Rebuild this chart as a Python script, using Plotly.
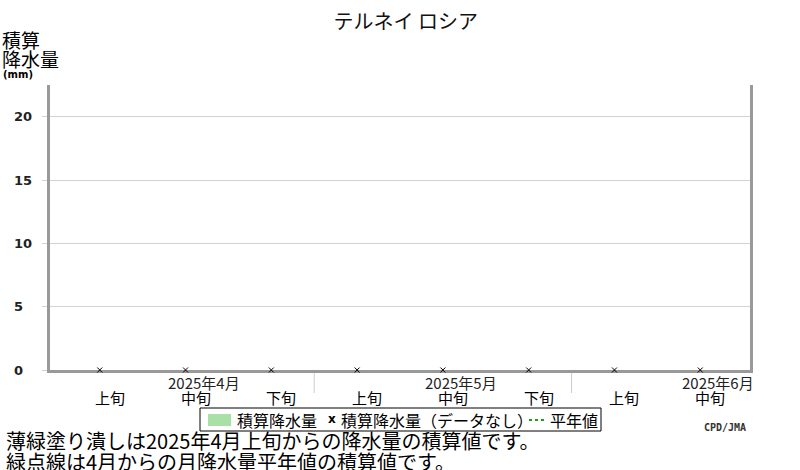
"""Cumulative precipitation chart (Terney, Russia)"""

import plotly.graph_objects as go

# data
dekads = ["上旬", "中旬", "下旬", "上旬", "中旬", "下旬", "上旬", "中旬"]
months = ["2025年4月", "2025年5月", "2025年6月"]
month_pos = [1, 4, 7]          # dekad index under which the month label sits
month_breaks = [2.5, 5.5]      # between last dekad of a month and first of next
precip = [None] * 8            # 積算降水量: no observations
nodata = [0, 0, 0, 0, 0, 0, 0, 0]  # x marks at zero where data is missing
normal = [None] * 8            # 平年値: not drawn
y_ticks = [0, 5, 10, 15, 20]

notes = [
    "薄緑塗り潰しは2025年4月上旬からの降水量の積算値です。",
    "緑点線は4月からの月降水量平年値の積算値です。",
]

FONT = "Noto Sans CJK JP"
AXIS_GRAY = "#999999"
GREEN = "#a8e0a8"
DOT_GREEN = "#229922"

# plot area in pixels (used to place the text around it)
L, R, T, B = 50, 750, 85, 370


def px(xp):
    return (xp - L) / (R - L)


def py(yp):
    return (B - yp) / (B - T)


x = list(range(len(dekads)))

fig = go.Figure()
fig.add_trace(go.Bar(x=x, y=precip, name="積算降水量", marker_color=GREEN))
fig.add_trace(go.Scatter(
    x=x, y=nodata, mode="markers", name="積算降水量（データなし）",
    cliponaxis=False,
    marker=dict(symbol="x-thin", size=5, line=dict(width=1, color="black"))
))
fig.add_trace(go.Scatter(
    x=x, y=normal, mode="lines", name="平年値",
    line=dict(color=DOT_GREEN, dash="dot", width=2)
))


def text(xp, yp, s, size, anchor="left", family=FONT, color="black"):
    fig.add_annotation(x=px(xp), y=py(yp), xref="paper", yref="paper",
                       xanchor=anchor, yanchor="middle", showarrow=False,
                       text=s, font=dict(family=family, size=size, color=color))


# y tick labels, left aligned as in the original
for v in y_ticks:
    fig.add_annotation(x=px(12), y=v, xref="paper", yref="y", text=f"<b>{v}</b>",
                       showarrow=False, xanchor="left", yanchor="middle",
                       font=dict(family="DejaVu Sans", size=13, color="#222222"))

# dekad and month labels under the axis
for i, d in enumerate(dekads):
    fig.add_annotation(x=i, y=py(397), xref="x", yref="paper", text=d,
                       showarrow=False, xshift=10, yanchor="middle",
                       font=dict(family=FONT, size=15, color="black"))
for m, p in zip(months, month_pos):
    fig.add_annotation(x=p, y=py(382), xref="x", yref="paper", text=m,
                       showarrow=False, xshift=18, yanchor="middle",
                       font=dict(family=FONT, size=15, color="#222222"))
for b in month_breaks:
    fig.add_shape(type="line", x0=b, x1=b, y0=py(373), y1=py(393),
                  xref="x", yref="paper", line=dict(color="#cccccc", width=1))

# y axis title
text(0, 40, "積算", 19)
text(0, 59, "降水量", 19)
text(1, 74, "<b>(mm)</b>", 10, family="DejaVu Sans")

# legend drawn by hand so it stays compact like the original
fig.add_shape(type="rect", xref="paper", yref="paper",
              x0=px(200), x1=px(601), y0=py(408), y1=py(431),
              line=dict(color="black", width=1), fillcolor="white")
fig.add_shape(type="rect", xref="paper", yref="paper",
              x0=px(208), x1=px(231), y0=py(414), y1=py(426),
              line=dict(width=0), fillcolor=GREEN)
text(235, 420, "積算降水量", 16)
text(332, 419, "<b>x</b>", 12, anchor="center", family="DejaVu Sans")
text(339, 420, "積算降水量（データなし）", 16)
fig.add_shape(type="line", xref="paper", yref="paper",
              x0=px(529), x1=px(546), y0=py(420), y1=py(420),
              line=dict(color=DOT_GREEN, width=2, dash="dot"))
text(548, 420, "平年値", 16)

# footer notes and credit
for k, n in enumerate(notes):
    text(4, 441 + 20 * k, n, 20)
text(748, 427, "<b>CPD/JMA</b>", 10, anchor="right",
     family="DejaVu Sans Mono", color="#333333")

fig.update_layout(
    width=800, height=470,
    margin=dict(l=L, r=800 - R, t=T, b=470 - B),
    paper_bgcolor="white", plot_bgcolor="white",
    title=dict(text="テルネイ ロシア", x=px(405), xanchor="center",
               y=1 - 22 / 470, yanchor="middle",
               font=dict(family=FONT, size=20, color="#111111")),
    showlegend=False,
    font=dict(family=FONT),
)

fig.update_xaxes(range=[-0.58, 7.58], showticklabels=False, showgrid=False,
                 zeroline=False, showline=True, linecolor=AXIS_GRAY,
                 linewidth=3, ticks="", layer="below traces")
fig.update_yaxes(range=[0, 22.5], tickvals=y_ticks, showticklabels=False,
                 showgrid=True, gridcolor="#d3d3d3", zeroline=False,
                 showline=True, linecolor=AXIS_GRAY, linewidth=3, mirror=True,
                 ticks="outside", ticklen=5, tickcolor="#d3d3d3",
                 layer="below traces")

# page body has a default 8px margin; remove it so the figure fills the window
fig.write_html("out.html", config={"displayModeBar": False},
               post_script="document.body.style.margin='0px';")
